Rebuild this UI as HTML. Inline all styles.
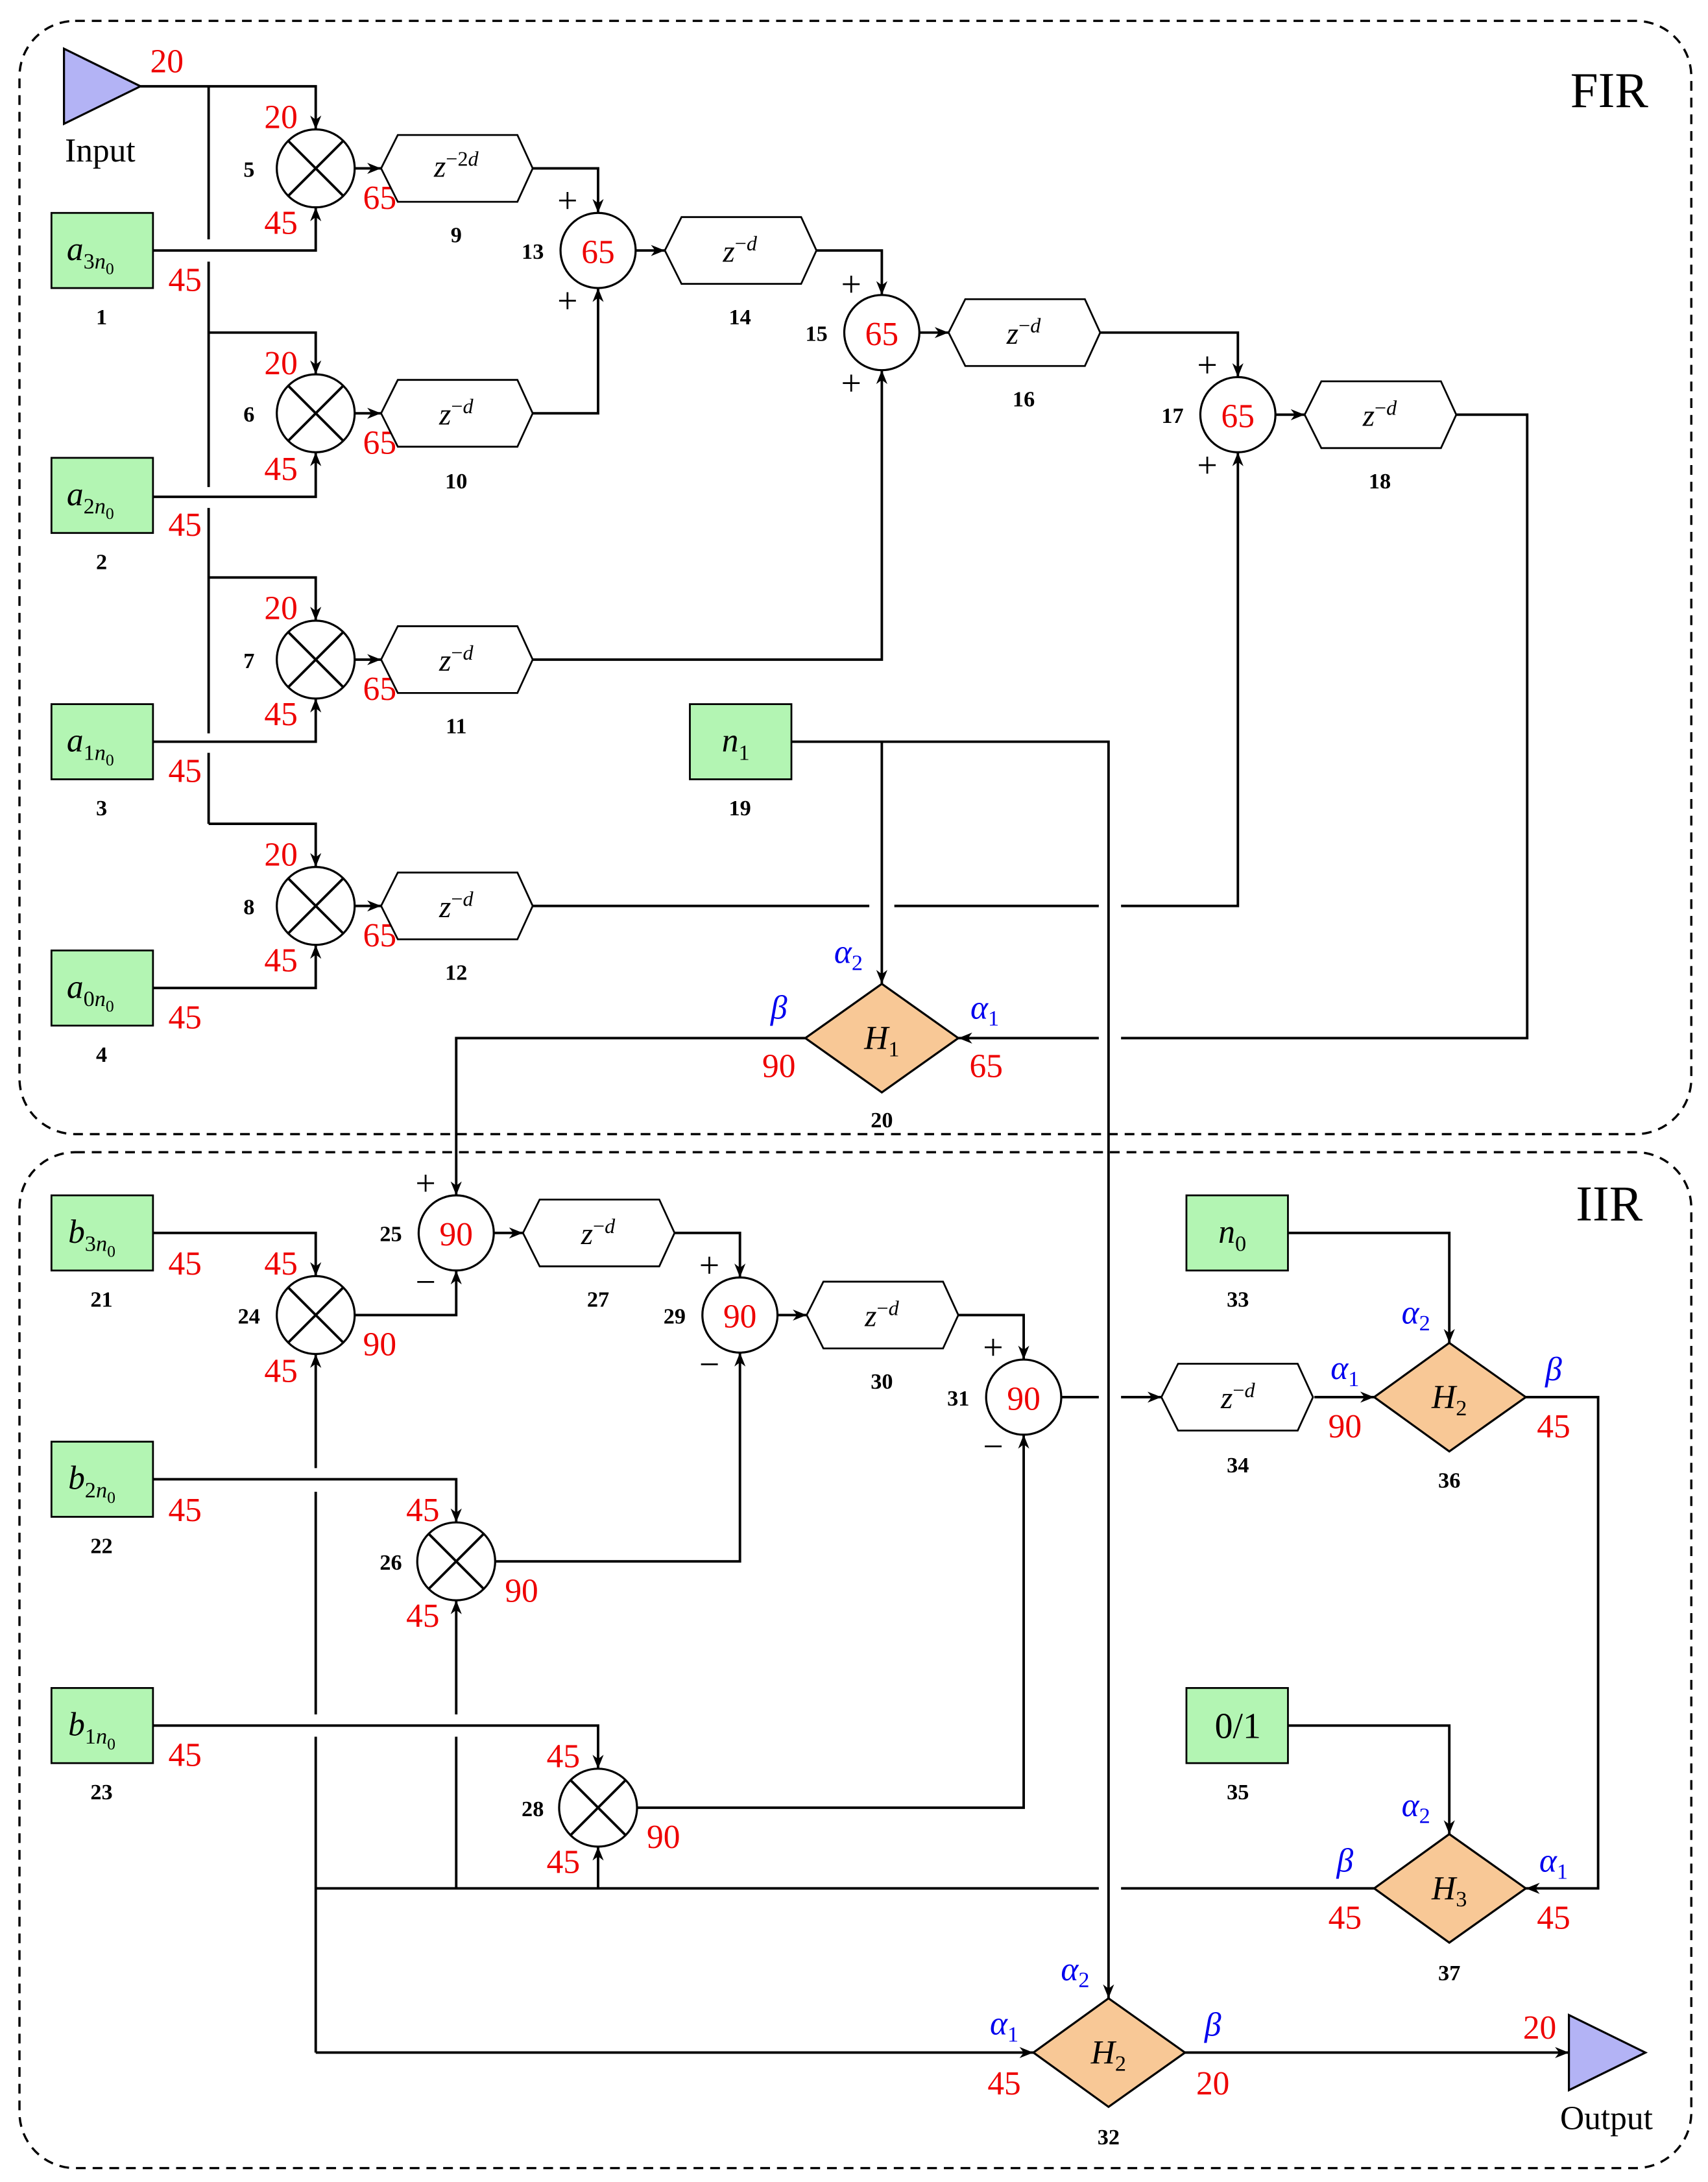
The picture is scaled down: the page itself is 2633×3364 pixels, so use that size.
<!DOCTYPE html>
<html><head><meta charset="utf-8"><style>
html,body{margin:0;padding:0;background:#fff}
svg{display:block}
text{font-family:"Liberation Serif",serif}
.r{fill:#e00;font-size:24px;text-anchor:middle}
.b{fill:#00e;font-size:24px;text-anchor:middle;font-style:italic}
.n{font-size:16px;font-weight:bold;text-anchor:middle}
.z{font-size:22px;text-anchor:middle;font-style:italic}
.pm{font-size:26px;text-anchor:middle}
.g{fill:#b3f5b3;stroke:#000;stroke-width:1.3}
.d{fill:#f8c896;stroke:#000;stroke-width:1.5}
.w{fill:none;stroke:#000;stroke-width:1.8}
.ar{fill:none;stroke:#000;stroke-width:1.8;marker-end:url(#a)}
.c{fill:#fff;stroke:#000;stroke-width:1.5}
.h{fill:#fff;stroke:#000;stroke-width:1.3}
</style></head><body>
<svg width="2633" height="3364" viewBox="0 0 1228 1568" preserveAspectRatio="none" xmlns="http://www.w3.org/2000/svg">
<defs><marker id="a" viewBox="0 0 10 10" refX="10" refY="5" markerWidth="10" markerHeight="10" orient="auto" markerUnits="userSpaceOnUse"><path d="M0,1 L10,5 L0,9 L3,5z" fill="#000"/></marker></defs>

<rect x="14" y="15" width="1202" height="800" rx="40" fill="none" stroke="#000" stroke-width="1.6" stroke-dasharray="7,5"/>
<rect x="14" y="828" width="1202" height="730" rx="40" fill="none" stroke="#000" stroke-width="1.6" stroke-dasharray="7,5"/>
<text x="1157" y="77" font-size="36" text-anchor="middle">FIR</text>
<text x="1157" y="877" font-size="36" text-anchor="middle">IIR</text>

<!-- wires FIR -->
<path class="ar" d="M101,62 H227 V93"/>
<path class="w" d="M150,62 V172 M150,188 V350 M150,365 V527 M150,541 V592"/>
<path class="ar" d="M150,239 H227 V269"/>
<path class="ar" d="M150,415 H227 V446"/>
<path class="ar" d="M150,592 H227 V623"/>
<path class="ar" d="M110,180 H227 V149"/>
<path class="ar" d="M110,357 H227 V325"/>
<path class="ar" d="M110,533 H227 V502"/>
<path class="ar" d="M110,710 H227 V679"/>
<path class="ar" d="M255,121 H274"/><path class="ar" d="M255,297 H274"/><path class="ar" d="M255,474 H274"/><path class="ar" d="M255,651 H274"/>
<path class="ar" d="M383,121 H430 V153"/>
<path class="ar" d="M383,297 H430 V207"/>
<path class="ar" d="M457,180 H478"/>
<path class="ar" d="M587,180 H634 V212"/>
<path class="ar" d="M383,474 H634 V266"/>
<path class="ar" d="M661,239 H682"/>
<path class="ar" d="M791,239 H890 V271"/>
<path class="w" d="M383,651 H625 M643,651 H790"/>
<path class="ar" d="M806,651 H890 V325"/>
<path class="ar" d="M917,298 H938"/>
<path class="w" d="M1047,298 H1098 V746 H806"/>
<path class="ar" d="M790,746 H689"/>
<path class="ar" d="M569,533 H797 V1436"/>
<path class="ar" d="M634,533 V707"/>
<path class="ar" d="M579,746 H328 V859"/>

<!-- wires IIR -->
<path class="ar" d="M110,886 H227 V917"/>
<path class="ar" d="M255,945 H328 V913"/>
<path class="ar" d="M355,886 H376"/>
<path class="ar" d="M485,886 H532 V918"/>
<path class="ar" d="M356,1122 H532 V972"/>
<path class="ar" d="M559,945 H580"/>
<path class="ar" d="M689,945 H736 V977"/>
<path class="ar" d="M458,1299 H736 V1031"/>
<path class="w" d="M763,1004 H790"/>
<path class="ar" d="M806,1004 H835"/>
<path class="ar" d="M945,1004 H988"/>
<path class="ar" d="M1097,1004 H1149 V1357 H1097"/>
<path class="ar" d="M926,886 H1042 V965"/>
<path class="ar" d="M926,1240 H1042 V1318"/>
<path class="w" d="M988,1357 H806 M790,1357 H227"/>
<path class="ar" d="M430,1357 V1327"/>
<path class="w" d="M328,1357 V1248"/><path class="ar" d="M328,1232 V1150"/>
<path class="ar" d="M227,1055 V973"/>
<path class="w" d="M227,1072 V1232 M227,1248 V1475"/>
<path class="ar" d="M227,1475 H743"/>
<path class="ar" d="M110,1063 H328 V1094"/>
<path class="ar" d="M110,1240 H430 V1271"/>
<path class="ar" d="M852,1475 H1128"/>

<!-- triangles -->
<polygon points="46,35 46,89 101,62" fill="#b3b3f5" stroke="#000" stroke-width="1.5"/>
<text x="72" y="116" font-size="24" text-anchor="middle">Input</text>
<text class="r" x="120" y="52">20</text>
<polygon points="1128,1448 1128,1502 1183,1475" fill="#b3b3f5" stroke="#000" stroke-width="1.5"/>
<text x="1155" y="1530" font-size="24" text-anchor="middle">Output</text>
<text class="r" x="1107" y="1465">20</text>

<!-- green boxes -->
<g>
<rect class="g" x="37" y="153" width="73" height="54"/><text x="48" y="187" font-size="24" font-style="italic">a<tspan font-size="16" dy="6" font-style="normal">3</tspan><tspan font-size="16">n</tspan><tspan font-size="12" dy="4" font-style="normal">0</tspan></text>
<rect class="g" x="37" y="329" width="73" height="54"/><text x="48" y="363" font-size="24" font-style="italic">a<tspan font-size="16" dy="6" font-style="normal">2</tspan><tspan font-size="16">n</tspan><tspan font-size="12" dy="4" font-style="normal">0</tspan></text>
<rect class="g" x="37" y="506" width="73" height="54"/><text x="48" y="540" font-size="24" font-style="italic">a<tspan font-size="16" dy="6" font-style="normal">1</tspan><tspan font-size="16">n</tspan><tspan font-size="12" dy="4" font-style="normal">0</tspan></text>
<rect class="g" x="37" y="683" width="73" height="54"/><text x="48" y="717" font-size="24" font-style="italic">a<tspan font-size="16" dy="6" font-style="normal">0</tspan><tspan font-size="16">n</tspan><tspan font-size="12" dy="4" font-style="normal">0</tspan></text>
<rect class="g" x="37" y="859" width="73" height="54"/><text x="49" y="893" font-size="24" font-style="italic">b<tspan font-size="16" dy="6" font-style="normal">3</tspan><tspan font-size="16">n</tspan><tspan font-size="12" dy="4" font-style="normal">0</tspan></text>
<rect class="g" x="37" y="1036" width="73" height="54"/><text x="49" y="1070" font-size="24" font-style="italic">b<tspan font-size="16" dy="6" font-style="normal">2</tspan><tspan font-size="16">n</tspan><tspan font-size="12" dy="4" font-style="normal">0</tspan></text>
<rect class="g" x="37" y="1213" width="73" height="54"/><text x="49" y="1247" font-size="24" font-style="italic">b<tspan font-size="16" dy="6" font-style="normal">1</tspan><tspan font-size="16">n</tspan><tspan font-size="12" dy="4" font-style="normal">0</tspan></text>
<rect class="g" x="496" y="506" width="73" height="54"/><text x="519" y="540" font-size="24" font-style="italic">n<tspan font-size="16" dy="6" font-style="normal">1</tspan></text>
<rect class="g" x="853" y="859" width="73" height="54"/><text x="876" y="893" font-size="24" font-style="italic">n<tspan font-size="16" dy="6" font-style="normal">0</tspan></text>
<rect class="g" x="853" y="1213" width="73" height="54"/><text x="890" y="1249" font-size="26" text-anchor="middle">0/1</text>
</g>
<text class="n" x="73" y="233">1</text><text class="n" x="73" y="409">2</text><text class="n" x="73" y="586">3</text><text class="n" x="73" y="763">4</text>
<text class="n" x="73" y="939">21</text><text class="n" x="73" y="1116">22</text><text class="n" x="73" y="1293">23</text>
<text class="n" x="532" y="586">19</text><text class="n" x="890" y="939">33</text><text class="n" x="890" y="1293">35</text>
<text class="r" x="133" y="209">45</text><text class="r" x="133" y="385">45</text><text class="r" x="133" y="562">45</text><text class="r" x="133" y="739">45</text>
<text class="r" x="133" y="916">45</text><text class="r" x="133" y="1093">45</text><text class="r" x="133" y="1269">45</text>

<!-- multipliers -->
<g>
<circle class="c" cx="227" cy="121" r="28"/><path class="w" d="M207,101 L247,141 M247,101 L207,141"/>
<circle class="c" cx="227" cy="297" r="28"/><path class="w" d="M207,277 L247,317 M247,277 L207,317"/>
<circle class="c" cx="227" cy="474" r="28"/><path class="w" d="M207,454 L247,494 M247,454 L207,494"/>
<circle class="c" cx="227" cy="651" r="28"/><path class="w" d="M207,631 L247,671 M247,631 L207,671"/>
<circle class="c" cx="227" cy="945" r="28"/><path class="w" d="M207,925 L247,965 M247,925 L207,965"/>
<circle class="c" cx="328" cy="1122" r="28"/><path class="w" d="M308,1102 L348,1142 M348,1102 L308,1142"/>
<circle class="c" cx="430" cy="1299" r="28"/><path class="w" d="M410,1279 L450,1319 M450,1279 L410,1319"/>
</g>
<text class="n" x="179" y="127">5</text><text class="n" x="179" y="303">6</text><text class="n" x="179" y="480">7</text><text class="n" x="179" y="657">8</text>
<text class="r" x="202" y="92">20</text><text class="r" x="202" y="168">45</text><text class="r" x="273" y="150">65</text>
<text class="r" x="202" y="269">20</text><text class="r" x="202" y="345">45</text><text class="r" x="273" y="326">65</text>
<text class="r" x="202" y="445">20</text><text class="r" x="202" y="521">45</text><text class="r" x="273" y="503">65</text>
<text class="r" x="202" y="622">20</text><text class="r" x="202" y="698">45</text><text class="r" x="273" y="680">65</text>
<text class="n" x="179" y="951">24</text><text class="r" x="202" y="916">45</text><text class="r" x="202" y="993">45</text><text class="r" x="273" y="974">90</text>
<text class="n" x="281" y="1128">26</text><text class="r" x="304" y="1093">45</text><text class="r" x="304" y="1169">45</text><text class="r" x="375" y="1151">90</text>
<text class="n" x="383" y="1305">28</text><text class="r" x="405" y="1270">45</text><text class="r" x="405" y="1346">45</text><text class="r" x="477" y="1328">90</text>

<!-- adders -->
<circle class="c" cx="430" cy="180" r="27"/><text class="r" x="430" y="189">65</text>
<circle class="c" cx="634" cy="239" r="27"/><text class="r" x="634" y="248">65</text>
<circle class="c" cx="890" cy="298" r="27"/><text class="r" x="890" y="307">65</text>
<circle class="c" cx="328" cy="886" r="27"/><text class="r" x="328" y="895">90</text>
<circle class="c" cx="532" cy="945" r="27"/><text class="r" x="532" y="954">90</text>
<circle class="c" cx="736" cy="1004" r="27"/><text class="r" x="736" y="1013">90</text>
<text class="n" x="383" y="186">13</text><text class="n" x="587" y="245">15</text><text class="n" x="843" y="304">17</text>
<text class="n" x="281" y="892">25</text><text class="n" x="485" y="951">29</text><text class="n" x="689" y="1010">31</text>
<text class="pm" x="408" y="153">+</text><text class="pm" x="408" y="225">+</text>
<text class="pm" x="612" y="213">+</text><text class="pm" x="612" y="284">+</text>
<text class="pm" x="868" y="271">+</text><text class="pm" x="868" y="343">+</text>
<text class="pm" x="306" y="859">+</text><text class="pm" x="306" y="930">−</text>
<text class="pm" x="510" y="918">+</text><text class="pm" x="510" y="989">−</text>
<text class="pm" x="714" y="977">+</text><text class="pm" x="714" y="1048">−</text>

<!-- delays -->
<g>
<polygon class="h" points="274,121 286,97 372,97 383,121 372,145 286,145"/><text class="z" x="328" y="127">z<tspan font-size="15" dy="-8" font-style="normal">−2</tspan><tspan font-size="15">d</tspan></text>
<polygon class="h" points="274,297 286,273 372,273 383,297 372,321 286,321"/><text class="z" x="328" y="305">z<tspan font-size="15" dy="-8" font-style="normal">−</tspan><tspan font-size="15">d</tspan></text>
<polygon class="h" points="274,474 286,450 372,450 383,474 372,498 286,498"/><text class="z" x="328" y="482">z<tspan font-size="15" dy="-8" font-style="normal">−</tspan><tspan font-size="15">d</tspan></text>
<polygon class="h" points="274,651 286,627 372,627 383,651 372,675 286,675"/><text class="z" x="328" y="659">z<tspan font-size="15" dy="-8" font-style="normal">−</tspan><tspan font-size="15">d</tspan></text>
<polygon class="h" points="478,180 490,156 576,156 587,180 576,204 490,204"/><text class="z" x="532" y="188">z<tspan font-size="15" dy="-8" font-style="normal">−</tspan><tspan font-size="15">d</tspan></text>
<polygon class="h" points="682,239 694,215 780,215 791,239 780,263 694,263"/><text class="z" x="736" y="247">z<tspan font-size="15" dy="-8" font-style="normal">−</tspan><tspan font-size="15">d</tspan></text>
<polygon class="h" points="938,298 950,274 1036,274 1047,298 1036,322 950,322"/><text class="z" x="992" y="306">z<tspan font-size="15" dy="-8" font-style="normal">−</tspan><tspan font-size="15">d</tspan></text>
<polygon class="h" points="376,886 388,862 474,862 485,886 474,910 388,910"/><text class="z" x="430" y="894">z<tspan font-size="15" dy="-8" font-style="normal">−</tspan><tspan font-size="15">d</tspan></text>
<polygon class="h" points="580,945 592,921 678,921 689,945 678,969 592,969"/><text class="z" x="634" y="953">z<tspan font-size="15" dy="-8" font-style="normal">−</tspan><tspan font-size="15">d</tspan></text>
<polygon class="h" points="835,1004 847,980 933,980 944,1004 933,1028 847,1028"/><text class="z" x="890" y="1012">z<tspan font-size="15" dy="-8" font-style="normal">−</tspan><tspan font-size="15">d</tspan></text>
</g>
<text class="n" x="328" y="174">9</text><text class="n" x="328" y="351">10</text><text class="n" x="328" y="527">11</text><text class="n" x="328" y="704">12</text>
<text class="n" x="532" y="233">14</text><text class="n" x="736" y="292">16</text><text class="n" x="992" y="351">18</text>
<text class="n" x="430" y="939">27</text><text class="n" x="634" y="998">30</text><text class="n" x="890" y="1058">34</text>

<!-- diamonds -->
<polygon class="d" points="579,746 634,707 689,746 634,785"/><text x="634" y="754" font-size="24" font-style="italic" text-anchor="middle">H<tspan font-size="16" dy="5" font-style="normal">1</tspan></text>
<text class="b" x="610" y="692">α<tspan font-size="16" dy="5" font-style="normal">2</tspan></text>
<text class="b" x="560" y="732">β</text><text class="r" x="560" y="774">90</text>
<text class="b" x="708" y="732">α<tspan font-size="16" dy="5" font-style="normal">1</tspan></text><text class="r" x="709" y="774">65</text>
<text class="n" x="634" y="810">20</text>

<polygon class="d" points="988,1004 1042,965 1097,1004 1042,1043"/><text x="1042" y="1012" font-size="24" font-style="italic" text-anchor="middle">H<tspan font-size="16" dy="5" font-style="normal">2</tspan></text>
<text class="b" x="1018" y="951">α<tspan font-size="16" dy="5" font-style="normal">2</tspan></text>
<text class="b" x="1117" y="992">β</text><text class="r" x="1117" y="1033">45</text>
<text class="b" x="967" y="991">α<tspan font-size="16" dy="5" font-style="normal">1</tspan></text><text class="r" x="967" y="1033">90</text>
<text class="n" x="1042" y="1069">36</text>

<polygon class="d" points="988,1357 1042,1318 1097,1357 1042,1396"/><text x="1042" y="1365" font-size="24" font-style="italic" text-anchor="middle">H<tspan font-size="16" dy="5" font-style="normal">3</tspan></text>
<text class="b" x="1018" y="1305">α<tspan font-size="16" dy="5" font-style="normal">2</tspan></text>
<text class="b" x="967" y="1345">β</text><text class="r" x="967" y="1386">45</text>
<text class="b" x="1117" y="1345">α<tspan font-size="16" dy="5" font-style="normal">1</tspan></text><text class="r" x="1117" y="1386">45</text>
<text class="n" x="1042" y="1423">37</text>

<polygon class="d" points="743,1475 797,1436 852,1475 797,1514"/><text x="797" y="1483" font-size="24" font-style="italic" text-anchor="middle">H<tspan font-size="16" dy="5" font-style="normal">2</tspan></text>
<text class="b" x="773" y="1423">α<tspan font-size="16" dy="5" font-style="normal">2</tspan></text>
<text class="b" x="722" y="1462">α<tspan font-size="16" dy="5" font-style="normal">1</tspan></text><text class="r" x="722" y="1505">45</text>
<text class="b" x="872" y="1463">β</text><text class="r" x="872" y="1505">20</text>
<text class="n" x="797" y="1541">32</text>
</svg>
</body></html>
